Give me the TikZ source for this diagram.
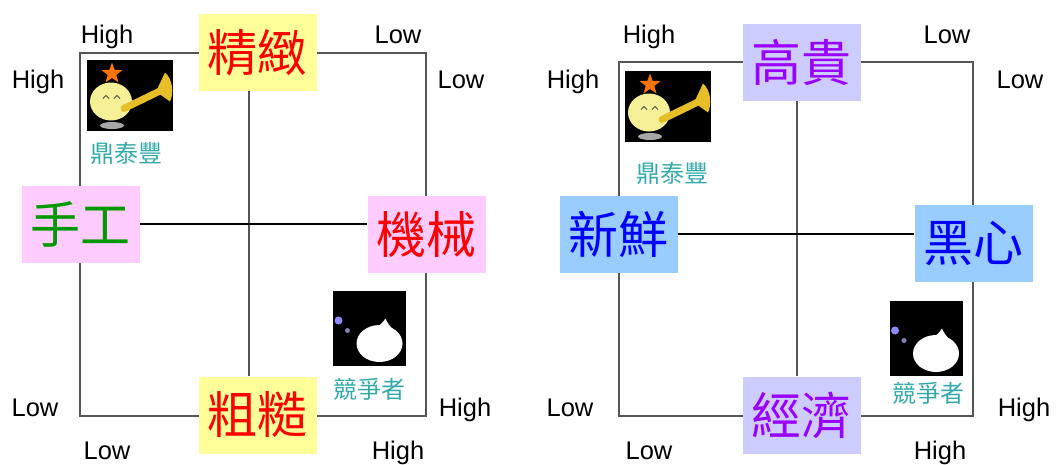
\documentclass[tikz,border=0pt]{standalone}
\usepackage{fontspec}
\setmainfont{Liberation Sans}
\newfontfamily\cjk{Noto Sans CJK TC}
\usepackage{tikz}
\definecolor{boxgelb}{RGB}{255,255,153}
\definecolor{boxrosa}{RGB}{255,204,255}
\definecolor{boxlila}{RGB}{204,204,255}
\definecolor{boxblau}{RGB}{153,204,255}
\definecolor{textlila}{RGB}{153,0,255}
\definecolor{textgruen}{RGB}{0,153,0}
\definecolor{texttuerkis}{RGB}{51,170,170}
\definecolor{rahmengrau}{RGB}{85,85,85}
\definecolor{trompete}{RGB}{230,190,40}
\definecolor{mond}{RGB}{245,240,150}

\begin{document}
\begin{tikzpicture}[x=1pt, y=-1pt,
			achse/.style={font=\fontsize{25.5}{28}\selectfont, anchor=base},
			feld/.style={rectangle, inner sep=0pt, minimum width=118pt, minimum height=77pt,
				font=\cjk\fontsize{50}{50}\selectfont},
			marke/.style={font=\cjk\fontsize{24}{26}\selectfont, text=texttuerkis},
			linie/.style={rahmengrau, line width=1.4pt},
			% Logo mit Trompete
			sonne/.pic={
				\fill[black] (-43,-35.5) rectangle (43,35.5);
				\fill[gray!70] (-18,30) ellipse [x radius=12, y radius=3.5];
				\fill[mond] (-19,6) ellipse [x radius=21, y radius=19];
				\draw[trompete, line width=7pt, line cap=round] (-6,13) -- (31,-5);
				\fill[trompete] (26,-4) -- (35,-23) .. controls (43,-16) and (44,-2) .. (40,6) -- cycle;
				\draw[black!70, line width=1pt] (-27,3) -- (-24,0) -- (-21,3) (-16,3) -- (-13,0) -- (-10,3);
				\fill[orange!90!red, shift={(-18,-22)}] (-90:11)
					\foreach \s in {1,...,9} {-- ({-90+36*\s}:{ifthenelse(mod(\s,2)==0,11,4.5)})} -- cycle;
			},
			% Logo Konkurrent
			geist/.pic={
				\fill[black] (-36.5,-37.5) rectangle (36.5,37.5);
				\fill[blue!45!white] (-31,-8) circle (4);
				\fill[blue!25!gray!80!white] (-22,2) circle (2.5);
				\fill[white] (10,15) ellipse [x radius=23, y radius=18.5];
				\fill[white] (6,-1) .. controls (11,-3) and (14,-7) .. (16,-10) .. controls (18,-5) and (21,-2) .. (24,2) -- cycle;
			}]
			\useasboundingbox (0,0) rectangle (1064,464);
			%Rahmen links
			\draw[linie] (80,53) rectangle (426,416);
			\coordinate (mitteL) at (249,224);
			% Felder links
			\node[feld, fill=boxgelb, text=red] (jingzhi) at (257.5,52.5) {精緻};
			\node[feld, fill=boxgelb, text=red] (cucao) at (257.5,415) {粗糙};
			\node[feld, fill=boxrosa, text=textgruen] (shougong) at (80.5,224.5) {手工};
			\node[feld, fill=boxrosa, text=red] (jixie) at (426.5,234.5) {機械};
			% Achsen links
			\draw[linie] (jingzhi.south -| mitteL) -- (cucao.north -| mitteL);
			\draw[black, line width=1.4pt] (shougong.east |- mitteL) -- (jixie.west |- mitteL);
			%Rahmen rechts
			\draw[linie] (619,62) rectangle (973,416);
			\coordinate (mitteR) at (797,234);
			% Felder rechts
			\node[feld, fill=boxlila, text=textlila] (gaogui) at (801.5,62.5) {高貴};
			\node[feld, fill=boxlila, text=textlila] (jingji) at (801.5,415) {經濟};
			\node[feld, fill=boxblau, text=blue] (xinxian) at (618.5,234.5) {新鮮};
			\node[feld, fill=boxblau, text=blue] (heixin) at (973.5,243.5) {黑心};
			% Achsen rechts
			\draw[linie] (gaogui.south -| mitteR) -- (jingji.north -| mitteR);
			\draw[black, line width=1.4pt] (xinxian.east |- mitteR) -- (heixin.west |- mitteR);
			% Achsen beschriften
			\foreach \x/\y/\t in {107/43/High, 398/43/Low, 38/88/High, 461/88/Low,
				35/416/Low, 465/416/High, 107/459/Low, 398/459/High,
				649/43/High, 947/43/Low, 573/88/High, 1020/88/Low,
				570/416/Low, 1024/416/High, 649/459/Low, 940/459/High}
				\node[achse] (wert-\x-\y) at (\x,\y) {\t};
			% Logos
			\pic at (130,95.5) {sonne};
			\node[marke] (dtfL) at (126.5,153) {鼎泰豐};
			\pic at (369.5,328.5) {geist};
			\node[marke] (rivalL) at (369,389) {競爭者};
			\pic at (668,106.5) {sonne};
			\node[marke] (dtfR) at (672,173) {鼎泰豐};
			\pic at (926,338.5) {geist};
			\node[marke] (rivalR) at (928,393) {競爭者};
		\end{tikzpicture}
\end{document}
